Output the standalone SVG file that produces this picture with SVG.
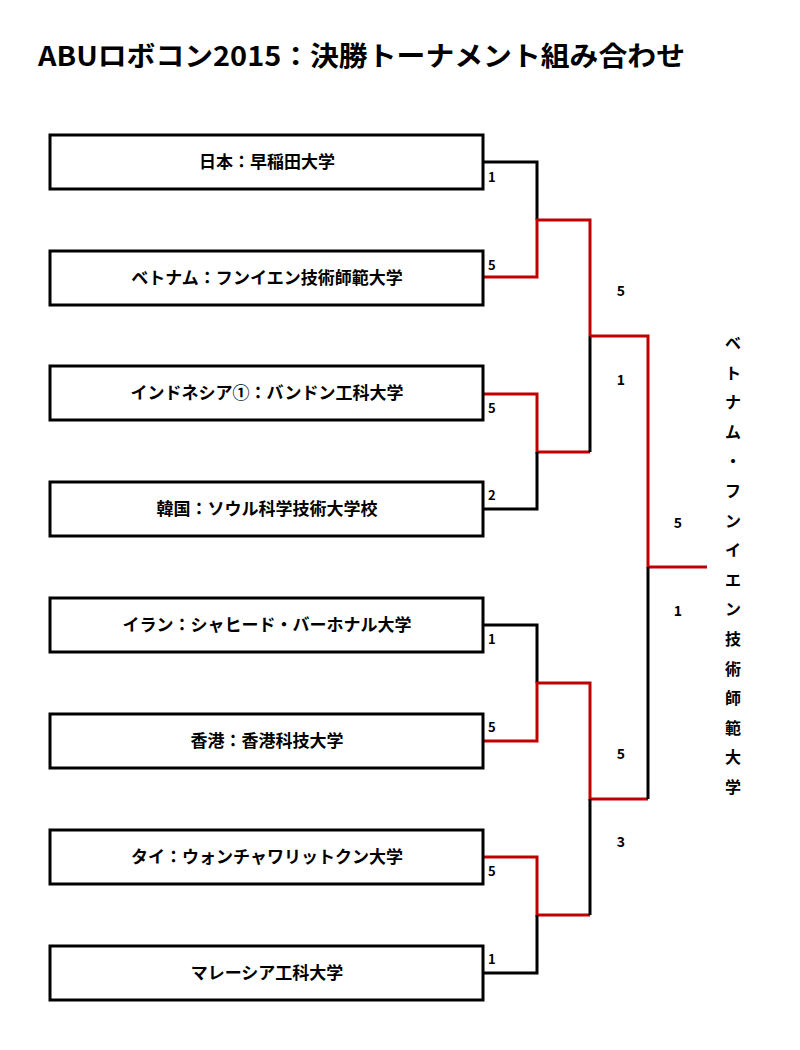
<svg xmlns="http://www.w3.org/2000/svg" width="800" height="1050" viewBox="0 0 800 1050">
<style>
text{font-family:"Noto Sans CJK JP","Noto Sans",sans-serif;font-weight:bold;fill:#000}
.box{fill:#fff;stroke:#000;stroke-width:3}
.lbl{font-size:17px;text-anchor:middle}
.sc{font-size:13px}
.ssc{font-size:14px;text-anchor:middle}
.k{fill:none;stroke:#000;stroke-width:3}
.r{fill:none;stroke:#c00000;stroke-width:3}
.v{font-size:16px;text-anchor:middle}
</style>
<rect width="800" height="1050" fill="#fff"/>
<text x="38" y="66" font-size="27" textLength="647" lengthAdjust="spacingAndGlyphs">ABUロボコン2015：決勝トーナメント組み合わせ</text>
<g id="connectors">
<path class="k" d="M483 162H537V220"/>
<path class="r" d="M483 277H537V220H590V336"/>
<path class="r" d="M483 394H537V452H590"/>
<path class="k" d="M483 509H537V452"/>
<path class="k" d="M590 336V452"/>
<path class="k" d="M483 625H537V683"/>
<path class="r" d="M483 741H537V683H590V799H648"/>
<path class="r" d="M483 857H537V915H590"/>
<path class="k" d="M483 973H537V915"/>
<path class="k" d="M590 799V915"/>
<path class="r" d="M590 336H648V567H707"/>
<path class="k" d="M648 567V799"/>
</g>
<g id="n1"><rect class="box" x="50" y="135" width="433" height="54"/><text class="lbl" x="267" y="168">日本：早稲田大学</text></g>
<g id="n2"><rect class="box" x="50" y="251" width="433" height="54"/><text class="lbl" x="267" y="284">ベトナム：フンイエン技術師範大学</text></g>
<g id="n3"><rect class="box" x="50" y="366" width="433" height="54"/><text class="lbl" x="267" y="399">インドネシア①：バンドン工科大学</text></g>
<g id="n4"><rect class="box" x="50" y="482" width="433" height="54"/><text class="lbl" x="267" y="515">韓国：ソウル科学技術大学校</text></g>
<g id="n5"><rect class="box" x="50" y="598" width="433" height="54"/><text class="lbl" x="267" y="631">イラン：シャヒード・バーホナル大学</text></g>
<g id="n6"><rect class="box" x="50" y="714" width="433" height="54"/><text class="lbl" x="267" y="747">香港：香港科技大学</text></g>
<g id="n7"><rect class="box" x="50" y="830" width="433" height="54"/><text class="lbl" x="267" y="863">タイ：ウォンチャワリットクン大学</text></g>
<g id="n8"><rect class="box" x="50" y="946" width="433" height="54"/><text class="lbl" x="267" y="979">マレーシア工科大学</text></g>
<g id="scores">
<text class="sc" x="488" y="182">1</text>
<text class="sc" x="488" y="270">5</text>
<text class="sc" x="488" y="413">5</text>
<text class="sc" x="488" y="500">2</text>
<text class="sc" x="488" y="644">1</text>
<text class="sc" x="488" y="732">5</text>
<text class="sc" x="488" y="876">5</text>
<text class="sc" x="488" y="964">1</text>
<text class="ssc" x="621" y="296">5</text>
<text class="ssc" x="621" y="385">1</text>
<text class="ssc" x="621" y="759">5</text>
<text class="ssc" x="621" y="847">3</text>
<text class="ssc" x="678" y="528">5</text>
<text class="ssc" x="678" y="616">1</text>
</g>
<g id="winner">
<text class="v" x="733" y="349">ベ</text>
<text class="v" x="733" y="379">ト</text>
<text class="v" x="733" y="408">ナ</text>
<text class="v" x="733" y="438">ム</text>
<text class="v" x="733" y="467">・</text>
<text class="v" x="733" y="497">フ</text>
<text class="v" x="733" y="527">ン</text>
<text class="v" x="733" y="556">イ</text>
<text class="v" x="733" y="586">エ</text>
<text class="v" x="733" y="615">ン</text>
<text class="v" x="733" y="645">技</text>
<text class="v" x="733" y="675">術</text>
<text class="v" x="733" y="704">師</text>
<text class="v" x="733" y="734">範</text>
<text class="v" x="733" y="763">大</text>
<text class="v" x="733" y="793">学</text>
</g>
</svg>
